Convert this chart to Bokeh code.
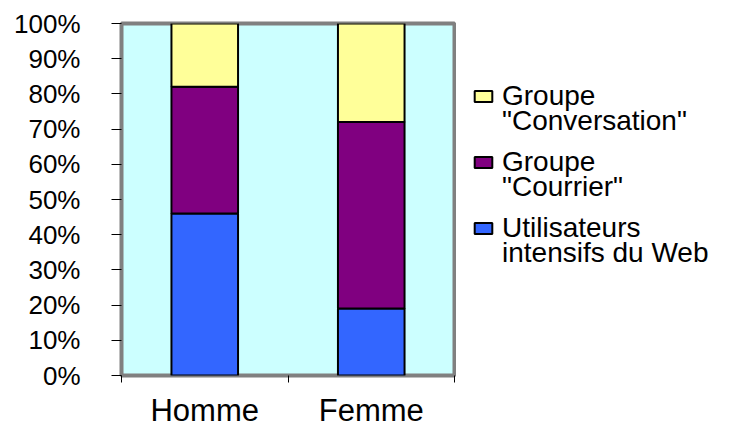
from bokeh.plotting import figure
from bokeh.layouts import row
from bokeh.models import (Range1d, FixedTicker, LinearAxis, Legend, LegendItem, ColumnDataSource)
from bokeh.embed import file_html
from bokeh.resources import INLINE

# ---- data ----
categories = ["Homme", "Femme"]
intensifs = [0.46, 0.19]
courrier = [0.36, 0.53]
conversation = [0.18, 0.28]
legend_first = ["Groupe", "Groupe", "Utilisateurs"]
legend_second = ["\"Conversation\"", "\"Courrier\"", "intensifs du Web"]
y_ticks = [i / 10 for i in range(11)]
y_tick_labels = ["0%", "10%", "20%", "30%", "40%", "50%", "60%", "70%", "80%", "90%", "100%"]

colors = ["#3366FF", "#800080", "#FFFF99"]
FONT = "Liberation Sans"

x_pos = [i + 0.5 for i in range(len(categories))]
x_bounds = list(range(len(categories) + 1))
source = ColumnDataSource(dict(x=x_pos, intensifs=intensifs, courrier=courrier,
                               conversation=conversation))

p = figure(width=456, height=430, output_backend="svg", toolbar_location=None,
           x_range=Range1d(0, len(categories)), y_range=Range1d(0, 1),
           min_border_left=121, min_border_right=2, min_border_top=23, min_border_bottom=52,
           x_axis_location=None, y_axis_location=None)
p.background_fill_color = "#CCFFFF"
p.border_fill_color = "white"
p.outline_line_color = "#808080"
p.outline_line_width = 4
p.xgrid.visible = False
p.ygrid.visible = False

p.vbar_stack(["intensifs", "courrier", "conversation"], x="x", width=0.4,
             source=source, fill_color=colors, line_color="black", line_width=2)

# y axis
yax = LinearAxis(ticker=FixedTicker(ticks=y_ticks),
                 major_label_overrides={t: l for t, l in zip(y_ticks, y_tick_labels)})
yax.axis_line_color = None
yax.major_tick_in = 0
yax.major_tick_out = 10
yax.major_tick_line_color = "black"
yax.minor_tick_line_color = None
yax.major_label_text_font = FONT
yax.major_label_text_font_size = "26px"
yax.major_label_text_color = "black"
yax.major_label_standoff = 31
p.add_layout(yax, "left")

# x axis: labels at category centres, boundary ticks as minor ticks
xl = LinearAxis(ticker=FixedTicker(ticks=x_pos, minor_ticks=x_bounds),
                major_label_overrides={t: c for t, c in zip(x_pos, categories)})
xl.axis_line_color = None
xl.major_tick_line_color = None
xl.major_tick_in = 0
xl.major_tick_out = 7
xl.minor_tick_line_color = "black"
xl.minor_tick_in = 0
xl.minor_tick_out = 7
xl.major_label_text_font = FONT
xl.major_label_text_font_size = "31px"
xl.major_label_text_color = "black"
xl.major_label_standoff = 10
p.add_layout(xl, "below")

# ---- legend panel ----
lf = figure(width=280, height=430, output_backend="svg", toolbar_location=None,
            x_range=Range1d(0, 1), y_range=Range1d(0, 1), min_border=0,
            x_axis_location=None, y_axis_location=None)
lf.outline_line_color = None
lf.xgrid.visible = False
lf.ygrid.visible = False

series_cols = ["conversation", "courrier", "intensifs"]
swatches = [lf.vbar(x="x", top=col, width=0.1, source=source, fill_color=c,
                    line_color="black", line_width=2, visible=False)
            for col, c in zip(series_cols, colors[::-1])]
ghost = lf.vbar(x="x", top="intensifs", width=0.1, source=source,
                fill_alpha=0, line_alpha=0, visible=False)


def style(lg):
    lg.background_fill_alpha = 0
    lg.border_line_color = None
    lg.padding = 0
    lg.margin = 0
    lg.spacing = 32
    lg.glyph_width = 22
    lg.glyph_height = 14
    lg.label_height = 34
    lg.label_standoff = 8
    lg.label_text_font = FONT
    lg.label_text_font_size = "28px"
    lg.label_text_color = "black"


leg_a = Legend(items=[LegendItem(label=t, renderers=[r]) for t, r in zip(legend_first, swatches)],
               location=(16, 130))
style(leg_a)
leg_b = Legend(items=[LegendItem(label=t, renderers=[ghost]) for t in legend_second],
               location=(16, 105))
style(leg_b)
lf.add_layout(leg_a, "center")
lf.add_layout(leg_b, "center")

layout = row(p, lf, spacing=0)
open("out.html", "w").write(file_html(layout, INLINE))
